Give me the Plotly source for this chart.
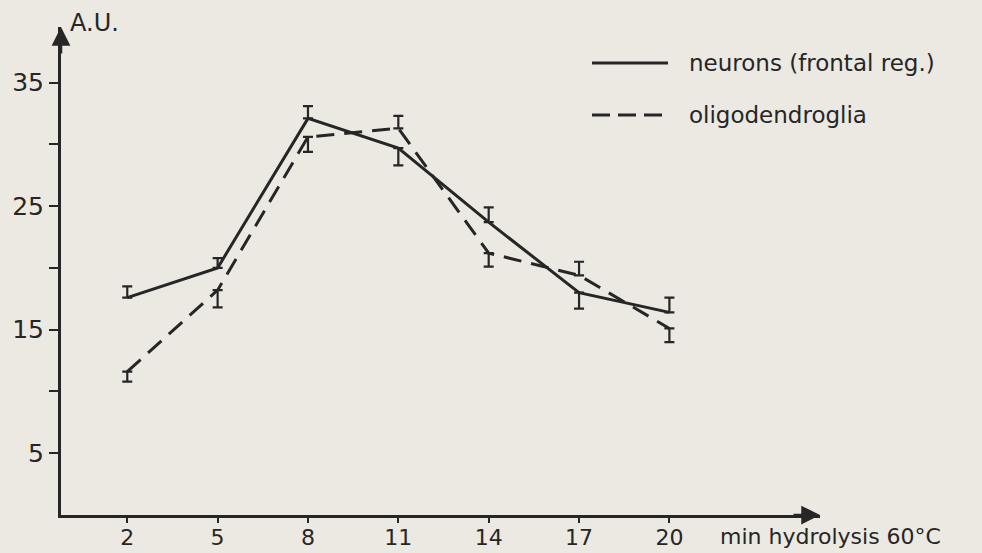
import plotly.graph_objects as go

# data
minutes = [2, 5, 8, 11, 14, 17, 20]
neurons = [17.6, 20.0, 32.1, 29.7, 23.7, 18.0, 16.4]
neurons_err_up = [0.9, 0.8, 1.0, 0.0, 1.2, 0.0, 1.2]
neurons_err_down = [0.0, 0.0, 0.0, 1.4, 0.0, 1.3, 0.0]
oligo = [11.6, 18.2, 30.6, 31.3, 21.2, 19.4, 15.1]
oligo_err_up = [0.0, 0.0, 0.0, 1.0, 0.0, 1.1, 0.0]
oligo_err_down = [0.8, 1.4, 1.2, 0.0, 1.1, 0.0, 1.1]
y_ticks = [5, 10, 15, 20, 25, 30, 35]
y_ticktext = ["5", "", "15", "", "25", "", "35"]
x_ticks = [2, 5, 8, 11, 14, 17, 20]

INK = "#262626"
BG = "#ebe9e2"
FONT = "DejaVu Sans, Verdana, sans-serif"

fig = go.Figure()
fig.add_trace(go.Scatter(
    x=minutes, y=neurons, mode="lines", name="neurons (frontal reg.)",
    line=dict(color=INK, width=3),
    error_y=dict(type="data", symmetric=False, array=neurons_err_up,
                 arrayminus=neurons_err_down, color=INK, thickness=2.2, width=5),
))
fig.add_trace(go.Scatter(
    x=minutes, y=oligo, mode="lines", name="oligodendroglia",
    line=dict(color=INK, width=3, dash="18px,10px"),
    error_y=dict(type="data", symmetric=False, array=oligo_err_up,
                 arrayminus=oligo_err_down, color=INK, thickness=2.2, width=5),
))

# legend drawn by hand (long line samples)
fig.add_shape(type="line", xref="paper", yref="paper", x0=0.6996, x1=0.7997, y0=0.926, y1=0.926,
              line=dict(color=INK, width=3))
fig.add_shape(type="line", xref="paper", yref="paper", x0=0.6996, x1=0.7997, y0=0.8197, y1=0.8197,
              line=dict(color=INK, width=3, dash="18px,8px"))
fig.add_annotation(xref="paper", yref="paper", x=0.8248, y=0.926, text="neurons (frontal reg.)",
                   showarrow=False, xanchor="left", yanchor="middle",
                   font=dict(family=FONT, size=23, color=INK))
fig.add_annotation(xref="paper", yref="paper", x=0.8248, y=0.8197, text="oligodendroglia",
                   showarrow=False, xanchor="left", yanchor="middle",
                   font=dict(family=FONT, size=23, color=INK))

# axis arrows and titles
fig.add_annotation(xref="paper", yref="paper", x=0, y=1.0, ax=0, ay=28,
                   showarrow=True, arrowhead=2, arrowsize=1.5, arrowwidth=2.5, arrowcolor=INK, text="")
fig.add_annotation(xref="paper", yref="paper", x=1.0, y=0, ax=-28, ay=0,
                   showarrow=True, arrowhead=2, arrowsize=1.5, arrowwidth=2.5, arrowcolor=INK, text="")
fig.add_annotation(xref="paper", yref="paper", x=0.0092, y=1.008, text="A.U.", showarrow=False,
                   xanchor="left", yanchor="middle",
                   font=dict(family=FONT, size=24, color=INK))
fig.add_annotation(xref="paper", yref="paper", x=0.8656, y=-0.045, text="min hydrolysis 60°C",
                   showarrow=False, xanchor="left", yanchor="middle",
                   font=dict(family=FONT, size=22, color=INK))

fig.update_layout(
    width=982, height=553,
    margin=dict(l=61, r=162, t=27, b=38),
    paper_bgcolor=BG, plot_bgcolor=BG,
    showlegend=False,
    font=dict(family=FONT, color=INK),
)
fig.update_xaxes(range=[-0.2, 25.0], showgrid=False, zeroline=False, automargin=False,
                 showline=True, linecolor=INK, linewidth=3,
                 tickmode="array", tickvals=x_ticks, ticks="outside", ticklen=5,
                 ticklabelstandoff=-4,
                 tickwidth=2, tickcolor=INK, tickfont=dict(size=22, family=FONT, color=INK))
fig.update_yaxes(range=[0, 39.5], showgrid=False, zeroline=False, automargin=False,
                 showline=True, linecolor=INK, linewidth=3,
                 tickmode="array", tickvals=y_ticks, ticktext=y_ticktext, ticks="outside", ticklen=9,
                 tickwidth=2, tickcolor=INK, tickfont=dict(size=25, family=FONT, color=INK))

fig.write_html("out.html", config={"displayModeBar": False},
               post_script="document.body.style.margin='0';document.body.style.overflow='hidden';"
                           "document.body.style.background='" + BG + "';")
